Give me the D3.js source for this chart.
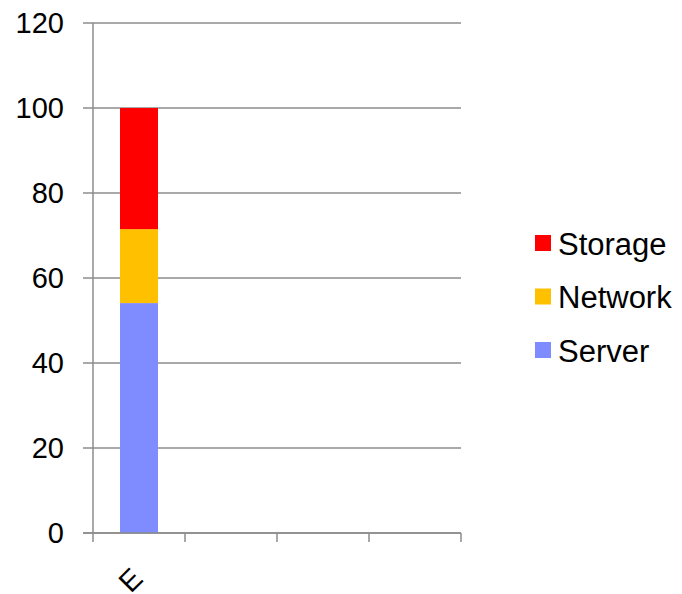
<!DOCTYPE html>
<html><head><meta charset="utf-8">
<script src="https://cdn.jsdelivr.net/npm/d3@7"></script>
<style>body{margin:0;background:#fff;}svg{display:block;font-family:"Liberation Sans",Arial,sans-serif;}</style>
</head><body>
<svg id="c" width="682" height="594"></svg>
<script>
const categories = ["E", "", "", ""];
const seriesNames = ["Server", "Network", "Storage"];
const server = [54.1, null, null, null];
const network = [17.4, null, null, null];
const storage = [28.5, null, null, null];
const colors = ["#7f8cff", "#ffc000", "#ff0000"];
const yTicks = [0, 20, 40, 60, 80, 100, 120];

const svg = d3.select("#c");
const L = 93, R = 461, T = 23, B = 533;
const x = d3.scaleBand().domain(d3.range(categories.length)).range([L, R]).paddingInner(0).paddingOuter(0);
const y = d3.scaleLinear().domain([0, 120]).range([B, T]);

// gridlines + left ticks
svg.append("g").selectAll("line").data(yTicks).join("line")
  .attr("x1", L - 10).attr("x2", R).attr("y1", d => y(d)).attr("y2", d => y(d))
  .attr("stroke", "#8c8c8c").attr("stroke-width", 1.3);
svg.append("g").selectAll("text").data(yTicks).join("text")
  .attr("x", 64).attr("y", d => y(d)).attr("dy", "0.36em").attr("text-anchor", "end")
  .attr("font-size", 29).attr("fill", "#000").text(d => d);

// stacked bars
const rows = categories.map((c, i) => ({i, Server: server[i] || 0, Network: network[i] || 0, Storage: storage[i] || 0}));
const stack = d3.stack().keys(seriesNames)(rows);
const bw = 38;
svg.append("g").selectAll("g").data(stack).join("g").attr("fill", (d, k) => colors[k])
  .selectAll("rect").data(d => d.filter(p => p[1] - p[0] > 0)).join("rect")
  .attr("x", p => x(p.data.i) + x.bandwidth() / 2 - bw / 2)
  .attr("width", bw)
  .attr("y", p => y(p[1]))
  .attr("height", p => y(p[0]) - y(p[1]));

// axes lines
svg.append("line").attr("x1", L).attr("x2", L).attr("y1", T).attr("y2", B).attr("stroke", "#8c8c8c").attr("stroke-width", 1.5);
svg.append("line").attr("x1", L - 10).attr("x2", R).attr("y1", B).attr("y2", B).attr("stroke", "#8c8c8c").attr("stroke-width", 1.5);
const xt = d3.range(categories.length + 1).map(i => L + i * x.bandwidth());
svg.append("g").selectAll("line").data(xt).join("line")
  .attr("x1", d => d).attr("x2", d => d).attr("y1", B).attr("y2", B + 9)
  .attr("stroke", "#8c8c8c").attr("stroke-width", 1.5);

// x labels
svg.append("g").selectAll("text").data(categories).join("text")
  .attr("transform", (d, i) => `translate(${x(i) + x.bandwidth() / 2 - 2},${B + 40}) rotate(-45)`)
  .attr("text-anchor", "end").attr("dy", "0.36em")
  .attr("font-size", 29).attr("fill", "#000").text(d => d);

// legend
const legendItems = seriesNames.map((n, k) => ({n, c: colors[k]})).reverse();
const lg = svg.append("g").selectAll("g").data(legendItems).join("g")
  .attr("transform", (d, i) => `translate(535,${235 + i * 53.5})`);
lg.append("rect").attr("width", 16).attr("height", 16).attr("fill", d => d.c);
lg.append("text").attr("x", 23).attr("y", 8.5).attr("dy", "0.36em").attr("font-size", 31).attr("fill", "#000").text(d => d.n);
</script>
</body></html>
